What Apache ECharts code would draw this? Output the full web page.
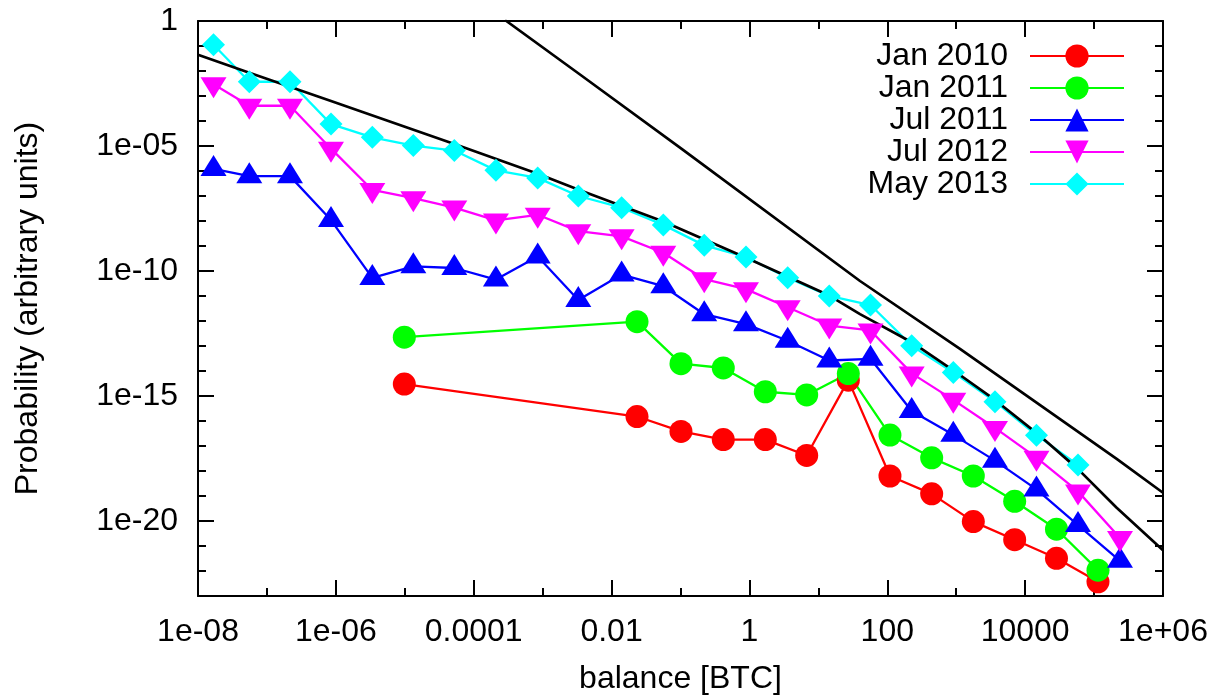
<!DOCTYPE html>
<html>
<head>
<meta charset="utf-8">
<script src="https://cdn.jsdelivr.net/npm/echarts@6/dist/echarts.min.js"></script>
<style>
  html, body { margin: 0; padding: 0; background: #ffffff; }
  #chart { width: 1224px; height: 700px; }
</style>
</head>
<body>
<div id="chart"></div>
<script>
// ---- data ---------------------------------------------------------------
const seriesNames = ['Jan 2010', 'Jan 2011', 'Jul 2011', 'Jul 2012', 'May 2013'];
const seriesColors = ['#ff0000', '#00ff00', '#0000ff', '#ff00ff', '#00ffff'];

// balance bin centres [BTC]
const balanceFine = [1.68e-8, 5.55e-8, 2.16e-7, 8.5e-7, 3.38e-6, 1.33e-5, 5.23e-5, 2.10e-4,
  8.48e-4, 3.29e-3, 1.40e-2, 5.63e-2, 0.221, 0.891, 3.59, 14.4, 57.1, 226, 907, 3650,
  14600, 58450, 237700];
const balanceCoarse = [9.84e-6, 2.34e-2, 0.1016, 0.4176, 1.70, 6.77, 27.2, 109.4, 440.6,
  1770, 7050, 28500, 114000];

// probability (arbitrary units)
const probJan2010 = [2.99e-15, 1.51e-16, 3.84e-17, 1.80e-17, 1.80e-17, 4.18e-18, 4.31e-15,
  6.31e-19, 1.22e-19, 9.47e-21, 1.78e-21, 3.23e-22, 3.71e-23];
const probJan2011 = [2.25e-13, 9.41e-13, 1.96e-14, 1.32e-14, 1.48e-15, 1.10e-15, 7.87e-15,
  2.74e-17, 3.36e-18, 6.31e-19, 6.15e-20, 4.69e-21, 1.08e-22];
const probJul2011 = [1.21e-6, 6.23e-7, 6.23e-7, 1.09e-8, 5.28e-11, 1.54e-10, 1.32e-10,
  4.56e-11, 3.83e-10, 6.89e-12, 7.20e-11, 2.47e-11, 1.87e-12, 7.49e-13, 1.63e-13, 2.63e-14,
  3.07e-14, 2.50e-16, 2.79e-17, 2.60e-18, 1.84e-19, 6.88e-21, 2.57e-22];
const probJul2012 = [2.95e-3, 4.07e-4, 4.07e-4, 7.81e-6, 1.74e-7, 8.14e-8, 3.45e-8,
  1.05e-8, 1.77e-8, 3.93e-9, 2.44e-9, 5.37e-10, 4.69e-11, 1.88e-11, 3.54e-12, 6.59e-13,
  4.18e-13, 8.02e-15, 7.01e-16, 5.28e-17, 3.42e-18, 1.53e-19, 2.10e-21];
const probMay2013 = [0.112, 3.71e-3, 3.71e-3, 7.52e-5, 2.23e-5, 1.04e-5, 6.57e-6, 1.06e-6,
  5.29e-7, 1.00e-7, 3.42e-8, 6.98e-9, 1.06e-9, 3.66e-10, 5.38e-11, 1.01e-11, 4.36e-12,
  1.03e-13, 8.78e-15, 5.94e-16, 2.72e-17, 1.75e-18];

// reference curves (black)
const powerLawX = [2.84e-4, 3.48e-3, 0.104, 40.2, 1134, 2.128e5, 1e6];
const powerLawY = [1.096, 7.23e-3, 7.67e-6, 3.98e-11, 7.72e-14, 3.06e-18, 1.35e-19];
const fitCurveX = [1e-8, 5.55e-8, 8.5e-7, 5.23e-5, 8.48e-4, 3.48e-3, 5.63e-2, 0.913, 14.4,
  40.2, 226, 907, 3650, 14700, 59000, 2.128e5, 1e6];
const fitCurveY = [4.49e-2, 8.44e-3, 6.31e-4, 1.21e-5, 7.83e-7, 1.70e-7, 9.52e-9, 3.34e-10,
  1.04e-11, 1.88e-12, 1.42e-13, 1.07e-14, 6.94e-16, 3.29e-17, 1.16e-18, 3.40e-20, 6.71e-22];

// tick labels
const xTickValues = [1e-8, 1e-6, 1e-4, 1e-2, 1, 100, 1e4, 1e6];
const xTickLabels = ['1e-08', '1e-06', '0.0001', '0.01', '1', '100', '10000', '1e+06'];
const yTickValues = [1e-20, 1e-15, 1e-10, 1e-5, 1];
const yTickLabels = ['1e-20', '1e-15', '1e-10', '1e-05', '1'];

// ---- helpers --------------------------------------------------------------
// Both axes are logarithmic: positions are decades (log10 of the value).
const lg = v => Math.log10(v);
const pairs = (xs, ys) => ys.map((y, i) => [lg(xs[i]), lg(y)]);
const xTickExp = xTickValues.map(v => Math.round(lg(v)));
const yTickExp = yTickValues.map(v => Math.round(lg(v)));
const labelOf = (exps, labels) => v => {
  const i = exps.findIndex(e => Math.abs(e - v) < 1e-6);
  return i >= 0 ? labels[i] : '';
};

const FONT = "'Liberation Sans', Arial, Helvetica, sans-serif";
const FS = 32;
const X_MIN = -8, X_MAX = 6, Y_MIN = -23, Y_MAX = 0;
const black = { color: '#000', width: 2 };

function axis(kind, position, major, showLine) {
  const isX = kind === 'x';
  const exps = isX ? xTickExp : yTickExp;
  const a = {
    type: 'value',
    position: position,
    min: isX ? X_MIN : Y_MIN,
    max: isX ? X_MAX : Y_MAX,
    splitLine: { show: false },
    axisLine: { show: showLine, onZero: false, lineStyle: black },
    axisTick: { show: true, inside: true, length: major ? 16 : 8, lineStyle: black },
    axisLabel: { show: false }
  };
  if (major) {
    a.axisTick.customValues = exps;
  } else {
    a.interval = 1;
  }
  return a;
}

const xAxes = [
  axis('x', 'bottom', true, true),
  axis('x', 'bottom', false, false),
  axis('x', 'top', true, true),
  axis('x', 'top', false, false)
];
Object.assign(xAxes[0], {
  name: 'balance [BTC]', nameLocation: 'middle', nameGap: 67,
  nameTextStyle: { fontFamily: FONT, fontSize: FS, color: '#000' }
});
xAxes[0].axisLabel = {
  show: true, customValues: xTickExp, formatter: labelOf(xTickExp, xTickLabels),
  margin: 20, fontFamily: FONT, fontSize: FS, color: '#000'
};

const yAxes = [
  axis('y', 'left', true, true),
  axis('y', 'left', false, false),
  axis('y', 'right', true, true),
  axis('y', 'right', false, false)
];
Object.assign(yAxes[0], {
  name: 'Probability (arbitrary units)', nameLocation: 'middle', nameGap: 154,
  nameTextStyle: { fontFamily: FONT, fontSize: FS, color: '#000' }
});
yAxes[0].axisLabel = {
  show: true, customValues: yTickExp, formatter: labelOf(yTickExp, yTickLabels),
  margin: 20, fontFamily: FONT, fontSize: FS, color: '#000'
};

function dataSeries(idx, xs, ys, symbol, size, extra) {
  return Object.assign({
    name: seriesNames[idx],
    type: 'line',
    data: pairs(xs, ys),
    symbol: symbol,
    symbolSize: size,
    showAllSymbol: true,
    lineStyle: { color: seriesColors[idx], width: 2.3 },
    itemStyle: { color: seriesColors[idx], opacity: 1 },
    emphasis: { disabled: true }
  }, extra || {});
}

const series = [
  dataSeries(0, balanceCoarse, probJan2010, 'circle', 23),
  dataSeries(1, balanceCoarse, probJan2011, 'circle', 23),
  dataSeries(2, balanceFine, probJul2011, 'triangle', [26, 21], { symbolOffset: [0, -3.5] }),
  dataSeries(3, balanceFine, probJul2012, 'triangle', [26, 21], { symbolRotate: 180, symbolOffset: [0, 3.5] }),
  dataSeries(4, balanceFine, probMay2013, 'diamond', [23, 23]),
  {
    name: 'power law', type: 'line', data: pairs(powerLawX, powerLawY), symbol: 'none',
    lineStyle: { color: '#000', width: 2.7 }, emphasis: { disabled: true }
  },
  {
    name: 'fit', type: 'line', data: pairs(fitCurveX, fitCurveY), symbol: 'none',
    lineStyle: { color: '#000', width: 2.7 }, emphasis: { disabled: true }
  }
];

const chart = echarts.init(document.getElementById('chart'), null, { renderer: 'canvas' });
chart.setOption({
  animation: false,
  backgroundColor: '#ffffff',
  textStyle: { fontFamily: FONT },
  grid: { left: 198, right: 61, top: 21, bottom: 99, containLabel: false },
  xAxis: xAxes,
  yAxis: yAxes,
  legend: {
    data: seriesNames,
    orient: 'vertical',
    right: 94,
    top: 35,
    align: 'right',
    itemWidth: 94,
    itemHeight: 29,
    itemGap: 0,
    selectedMode: false,
    textStyle: {
      fontFamily: FONT, fontSize: FS, color: '#000',
      width: 145, align: 'right', padding: [0, 17, 0, 0]
    }
  },
  series: series
});
</script>
</body>
</html>
